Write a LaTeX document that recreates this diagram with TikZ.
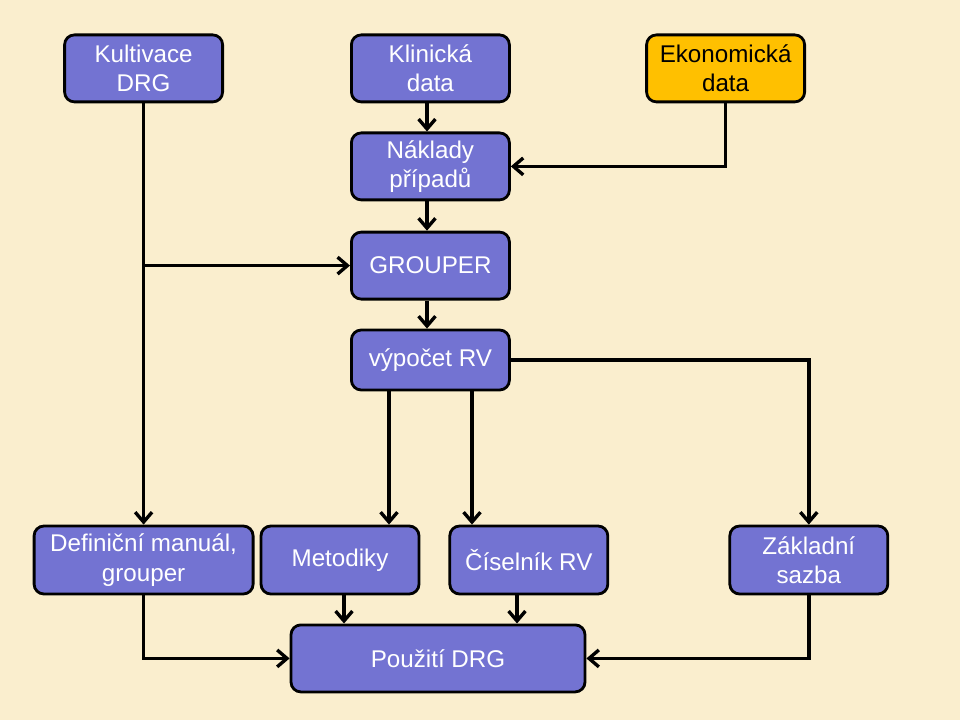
\documentclass[tikz,border=0pt]{standalone}
\usepackage{fontspec}
\setmainfont{Liberation Sans}
\usepackage{xcolor}
\definecolor{BoxBlue}{RGB}{115,115,210}
\definecolor{BoxGold}{RGB}{255,192,0}
\definecolor{Paper}{RGB}{250,238,206}
\usetikzlibrary{arrows.meta}

\tikzset{
  box/.style={draw=black, line width=2pt, rounded corners=7pt, fill=BoxBlue,
    text=white, align=center, minimum width=3.95cm, minimum height=1.675cm,
    inner sep=2pt, font=\fontsize{17.2}{20.8}\selectfont},
  goldbox/.style={box, fill=BoxGold, text=black},
  arr/.style={line width=2.4pt, -{Straight Barb[length=7pt,width=12pt]}},
}

\begin{document}
\begin{tikzpicture}
\fill[Paper] (0, 0) rectangle (24, 18);

% top row
\node[box] (kult) at (3.59, 16.29) {Kultivace\\DRG};
\node[box] (klin) at (10.76, 16.29) {Klinická\\data};
\node[goldbox] (ekon) at (18.14, 16.29) {Ekonomická\\data};

% middle column
\node[box] (naklady) at (10.76, 13.84) {Náklady\\případů};
\node[box] (grouper) at (10.76, 11.36) {GROUPER};
\node[box, minimum height=1.5cm] (vypocet) at (10.76, 9.0) {výpočet RV};

% bottom row
\node[box, minimum width=5.475cm, minimum height=1.7cm] (defin) at (3.59, 4.0) {Definiční manuál,\\grouper};
\node[box, minimum height=1.7cm] (metod) at (8.5, 4.0) {Metodiky};
\node[box, minimum height=1.7cm] (cisel) at (13.22, 4.0) {Číselník RV};
\node[box, minimum height=1.7cm] (zaklad) at (20.22, 4.0) {Základní\\sazba};
\node[box, minimum width=7.35cm] (pouziti) at (10.95, 1.54) {Použití DRG};

% x positions of the offset arrows
\coordinate (xa) at (10.675, 0);
\coordinate (xm) at (9.725, 0);
\coordinate (xc) at (11.8, 0);
\coordinate (xp) at (8.6, 0);
\coordinate (xq) at (12.925, 0);
\coordinate (branch) at (kult.south |- grouper.west);

\draw[arr] (klin.south -| xa) -- (naklady.north -| xa);
\draw[arr] (naklady.south -| xa) -- (grouper.north -| xa);
\draw[arr] (grouper.south -| xa) -- (vypocet.north -| xa);
\draw[arr] (ekon.south) |- (naklady.east);

\draw[arr] (kult.south) -- (defin.north);
\draw[arr] (branch) -- (grouper.west);

\draw[arr] (vypocet.south -| xm) -- (metod.north -| xm);
\draw[arr] (vypocet.south -| xc) -- (cisel.north -| xc);
\draw[arr] (vypocet.east) -| (zaklad.north);

\draw[arr] (metod.south -| xp) -- (pouziti.north -| xp);
\draw[arr] (cisel.south -| xq) -- (pouziti.north -| xq);
\draw[arr] (defin.south) |- (pouziti.west);
\draw[arr] (zaklad.south) |- (pouziti.east);
\end{tikzpicture}
\end{document}
